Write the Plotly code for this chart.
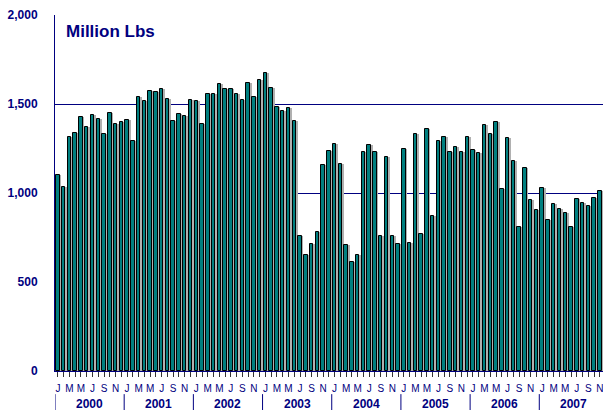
import plotly.graph_objects as go

years = ["2000", "2001", "2002", "2003", "2004", "2005", "2006", "2007"]
month_letters = ["J", "F", "M", "A", "M", "J", "J", "A", "S", "O", "N", "D"]

# Monthly values, Jan 2000 .. Nov 2007 (million lbs)
values_2000 = [1101, 1036, 1316, 1339, 1425, 1369, 1440, 1416, 1330, 1451, 1386, 1399]
values_2001 = [1408, 1290, 1541, 1515, 1575, 1569, 1582, 1526, 1406, 1442, 1433, 1521]
values_2002 = [1515, 1386, 1556, 1556, 1611, 1584, 1586, 1558, 1521, 1620, 1541, 1633]
values_2003 = [1672, 1590, 1483, 1461, 1476, 1403, 758, 654, 712, 781, 1156, 1236]
values_2004 = [1273, 1161, 710, 610, 650, 1232, 1270, 1228, 758, 1200, 758, 712]
values_2005 = [1249, 721, 1330, 768, 1358, 873, 1290, 1312, 1230, 1257, 1228, 1315]
values_2006 = [1244, 1225, 1380, 1331, 1397, 1021, 1311, 1182, 809, 1140, 963, 904]
values_2007 = [1030, 848, 936, 910, 890, 811, 966, 942, 929, 970, 1009]

values = (values_2000 + values_2001 + values_2002 + values_2003 + values_2004
          + values_2005 + values_2006 + values_2007)
n = len(values)
x = list(range(n))

tick_text = []
for i in range(n):
    m = i % 12
    tick_text.append(month_letters[m] if m in (0, 2, 4, 6, 8, 10) else "")

NAVY = "#000080"
BW = 0.6

fig = go.Figure()
# shadow
fig.add_trace(go.Bar(x=x, y=values, width=BW, offset=-BW / 2 + 0.3,
                     marker=dict(color="#b0b0b0", line=dict(width=0)),
                     hoverinfo="skip", showlegend=False))
# main bars
fig.add_trace(go.Bar(x=x, y=values, width=BW, offset=-BW / 2,
                     marker=dict(color="#007F7F", line=dict(color="#000000", width=1)),
                     showlegend=False))

shapes = []
for k in range(len(years)):
    xb = 12 * k - 0.5
    shapes.append(dict(type="line", xref="x", yref="paper", x0=xb, x1=xb,
                       y0=-0.065, y1=-0.12, line=dict(color=NAVY, width=1)))

annotations = []
for k, yr in enumerate(years):
    annotations.append(dict(x=12 * k + 5.5, y=-0.093, xref="x", yref="paper",
                            text=yr, showarrow=False, yanchor="middle",
                            font=dict(family="Liberation Sans, Arial", size=12,
                                      color=NAVY, weight="bold")))
annotations.append(dict(x=(64 - 55) / 548, y=(371 - 32) / 356, xref="paper", yref="paper",
                        text="Million Lbs", showarrow=False, xanchor="left", yanchor="middle",
                        font=dict(family="Liberation Sans, Arial", size=17,
                                  color=NAVY, weight="bold")))

fig.update_layout(
    width=603, height=410,
    margin=dict(l=55, r=0, t=15, b=39, autoexpand=False),
    paper_bgcolor="white", plot_bgcolor="white",
    barmode="overlay", bargap=0,
    shapes=shapes, annotations=annotations,
    xaxis=dict(range=[-0.5, n - 0.5 + 0.05], tickmode="array", tickvals=x, ticktext=tick_text,
               ticks="outside", ticklen=5, tickcolor="#333333", tickwidth=1,
               showline=True, linecolor=NAVY, linewidth=1, showgrid=False,
               tickangle=0, ticklabelstandoff=3, automargin=False,
               ticklabeloverflow="allow",
               tickfont=dict(family="Liberation Sans, Arial", size=10, color=NAVY)),
    yaxis=dict(range=[0, 2000], tickvals=[0, 500, 1000, 1500, 2000],
               ticktext=["0", "500", "1,000", "1,500", "2,000"],
               showgrid=True, gridcolor=NAVY, gridwidth=1, zeroline=False,
               showline=True, linecolor=NAVY, linewidth=1, mirror=False,
               ticks="", ticklabelstandoff=14, automargin=False,
               tickfont=dict(family="Liberation Sans, Arial", size=12, color=NAVY,
                             weight="bold")),
)

fig.write_html(
    "out.html",
    config={"displayModeBar": False},
    post_script="document.body.style.margin='0';document.body.style.overflow='hidden';",
)
